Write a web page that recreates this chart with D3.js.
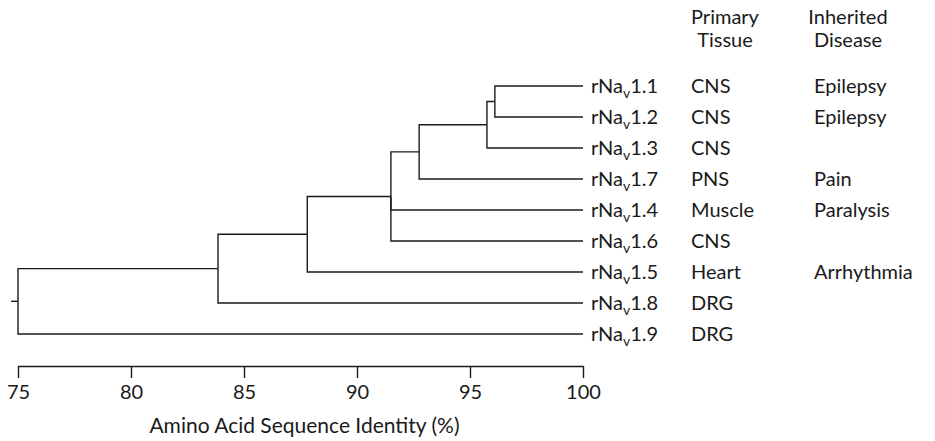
<!DOCTYPE html>
<html>
<head>
<meta charset="utf-8">
<script src="https://cdn.jsdelivr.net/npm/d3@7"></script>
<style>
  body { margin: 0; background: #fff; }
  text { font-family: Lato, "Open Sans", sans-serif; fill: #1a1a1a; }
</style>
</head>
<body>
<div id="chart"></div>
<script>
// leaves, top to bottom
const channels = ["1.1", "1.2", "1.3", "1.7", "1.4", "1.6", "1.5", "1.8", "1.9"];
const tissues = ["CNS", "CNS", "CNS", "PNS", "Muscle", "CNS", "Heart", "DRG", "DRG"];
const diseases = ["Epilepsy", "Epilepsy", "", "Pain", "Paralysis", "", "Arrhythmia", "", ""];

// internal nodes of the tree: id, children, and identity (%) where they join
const nodeIds = ["n1", "n2", "n3", "n4", "n5", "n6", "root"];
const nodeChildren = [
    ["1.1", "1.2"],
    ["n1", "1.3"],
    ["n2", "1.7"],
    ["n3", "1.4", "1.6"],
    ["n4", "1.5"],
    ["n5", "1.8"],
    ["n6", "1.9"]
];
const nodeIdentity = [96.1, 95.75, 92.75, 91.5, 87.8, 83.85, 75];

const axisTicks = [75, 80, 85, 90, 95, 100];
const headers = [["Primary", "Tissue"], ["Inherited", "Disease"]];

const width = 935, height = 441;
const margin = {top: 86, left: 18};

const svg = d3.select("#chart")
    .append("svg")
    .attr("width", width)
    .attr("height", height);

const x = d3.scaleLinear()
    .domain([75, 100])
    .range([margin.left, 583]);

const y = d3.scalePoint()
    .domain(channels)
    .range([margin.top, 334]);

// build nested data for d3.hierarchy
function build(id) {
    const i = nodeIds.indexOf(id);
    if (i < 0) return {name: id, identity: 100};
    return {name: id, identity: nodeIdentity[i], children: nodeChildren[i].map(build)};
}
const root = d3.hierarchy(build("root"));

// vertical placement: leaves on rows, parents between first and last child
root.eachAfter(function (d) {
    d.px = x(d.data.identity);
    if (d.children) {
        d.py = (d.children[0].py + d.children[d.children.length - 1].py) / 2;
    } else {
        d.py = y(d.data.name);
    }
});

const tree = svg.append("g")
    .attr("fill", "none")
    .attr("stroke", "#1a1a1a")
    .attr("stroke-width", 1.4);

// elbow links
tree.selectAll("path.link")
    .data(root.links())
    .join("path")
    .attr("class", "link")
    .attr("d", function (l) {
        return `M${l.source.px},${l.source.py}V${l.target.py}H${l.target.px}`;
    });

// little stub at the root
tree.append("path")
    .attr("d", `M${root.px - 7},${root.py}H${root.px}`);

// row labels
const rows = svg.append("g")
    .style("font-size", "20px");

const label = rows.selectAll("text.name")
    .data(channels)
    .join("text")
    .attr("class", "name")
    .attr("x", x(100) + 8)
    .attr("y", d => y(d))
    .attr("dy", "0.35em");
label.append("tspan").text("rNa");
label.append("tspan").text("v")
    .style("font-size", "14px")
    .attr("dy", 5);
label.append("tspan").text(d => d)
    .attr("dy", -5);

rows.selectAll("text.tissue")
    .data(tissues)
    .join("text")
    .attr("class", "tissue")
    .attr("x", 691)
    .attr("y", (d, i) => y(channels[i]))
    .attr("dy", "0.35em")
    .text(d => d);

rows.selectAll("text.disease")
    .data(diseases)
    .join("text")
    .attr("class", "disease")
    .attr("x", 814)
    .attr("y", (d, i) => y(channels[i]))
    .attr("dy", "0.35em")
    .text(d => d);

// column headers
const headX = [725, 848];
headers.forEach(function (h, i) {
    svg.append("g")
        .selectAll("text")
        .data(h)
        .join("text")
        .attr("x", headX[i])
        .attr("y", (d, j) => 24 + j * 23)
        .attr("text-anchor", "middle")
        .style("font-size", "20px")
        .text(d => d);
});

// axis
const axis = svg.append("g")
    .attr("transform", "translate(0,366)")
    .call(d3.axisBottom(x).tickValues(axisTicks).tickSize(12).tickSizeOuter(0).tickPadding(7));
axis.select(".domain").attr("stroke", "#1a1a1a").attr("stroke-width", 1.4);
axis.selectAll(".tick line").attr("stroke", "#1a1a1a").attr("stroke-width", 1.4);
axis.selectAll(".tick text")
    .style("font-family", "Lato, sans-serif")
    .style("font-size", "20px")
    .attr("fill", "#1a1a1a");

svg.append("text")
    .attr("x", (x(75) + x(100)) / 2 + 4)
    .attr("y", 433)
    .attr("text-anchor", "middle")
    .style("font-size", "21px")
    .text("Amino Acid Sequence Identity (%)");
</script>
</body>
</html>
